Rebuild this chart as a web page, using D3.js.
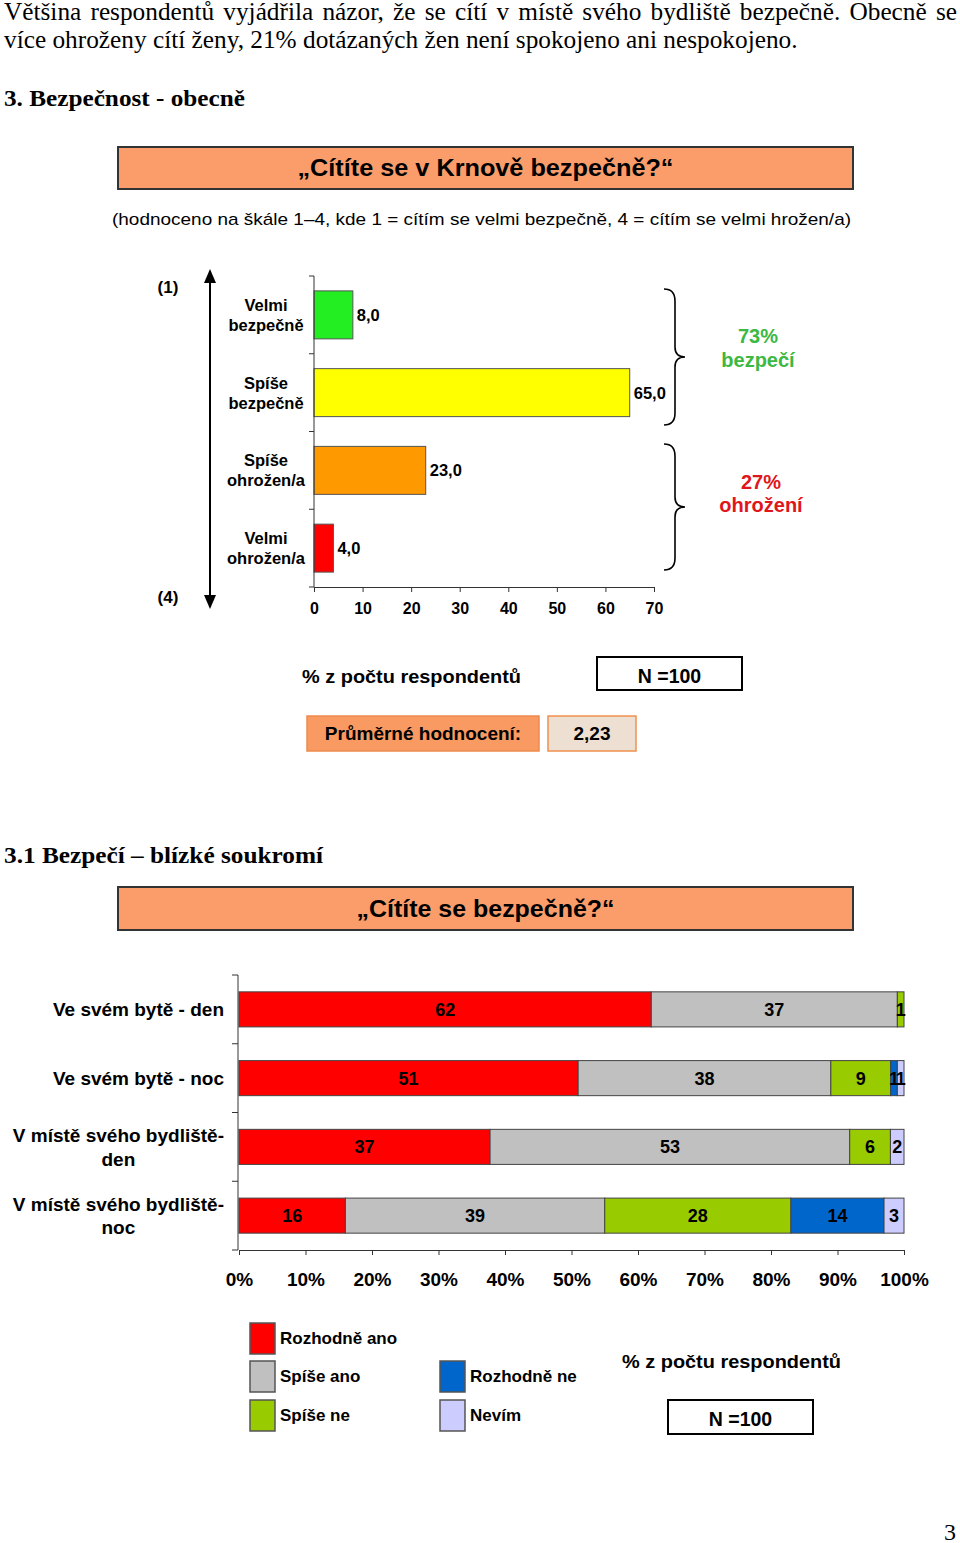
<!DOCTYPE html>
<html>
<head>
<meta charset="utf-8">
<script src="https://cdn.jsdelivr.net/npm/d3@7"></script>
<style>
  html, body { margin: 0; padding: 0; background: #fff; }
  svg { display: block; }
  text { font-family: "Liberation Sans", Arial, sans-serif; fill: #000; }
  .serif { font-family: "Liberation Serif", "Times New Roman", serif; }
  .b { font-weight: bold; }
</style>
</head>
<body>
<svg id="page" width="960" height="1543"></svg>
<script>
// ---------- DATA ----------
const paragraphLines = [
  "Většina respondentů vyjádřila názor, že se cítí v místě svého bydliště bezpečně. Obecně se",
  "více ohroženy cítí ženy, 21% dotázaných žen není spokojeno ani nespokojeno."
];
const heading1 = "3. Bezpečnost - obecně";
const title1 = "„Cítíte se v Krnově bezpečně?“";
const subtitle1 = "(hodnoceno na škále 1–4, kde 1 = cítím se velmi bezpečně, 4 = cítím se velmi hrožen/a)";

const cats1 = ["Velmi bezpečně", "Spíše bezpečně", "Spíše ohrožen/a", "Velmi ohrožen/a"];
const catLines1 = [["Velmi", "bezpečně"], ["Spíše", "bezpečně"], ["Spíše", "ohrožen/a"], ["Velmi", "ohrožen/a"]];
const values1 = [8.0, 65.0, 23.0, 4.0];
const colors1 = ["#22EE22", "#FFFF00", "#FF9900", "#FF0000"];
const ticks1 = [0, 10, 20, 30, 40, 50, 60, 70];
const groupLabels1 = [["73%", "bezpečí"], ["27%", "ohrožení"]];
const axisText1 = "% z počtu respondentů";
const nText = "N =100";
const avgLabel = "Průměrné hodnocení:";
const avgValue = "2,23";

const heading2 = "3.1 Bezpečí – blízké soukromí";
const title2 = "„Cítíte se bezpečně?“";
const rows2 = ["Ve svém bytě - den", "Ve svém bytě - noc", "V místě svého bydliště-den", "V místě svého bydliště-noc"];
const rowLines2 = [["Ve svém bytě - den"], ["Ve svém bytě - noc"], ["V místě svého bydliště-", "den"], ["V místě svého bydliště-", "noc"]];
const series2 = ["Rozhodně ano", "Spíše ano", "Spíše ne", "Rozhodně ne", "Nevím"];
const rozhodneAno = [62, 51, 37, 16];
const spiseAno    = [37, 38, 53, 39];
const spiseNe     = [1, 9, 6, 28];
const rozhodneNe  = [0, 1, 0, 14];
const nevim       = [0, 1, 2, 3];
const colors2 = ["#FF0000", "#C0C0C0", "#99CC00", "#0066CC", "#CCCCFF"];
const ticks2 = [0, 0.1, 0.2, 0.3, 0.4, 0.5, 0.6, 0.7, 0.8, 0.9, 1.0];
const pageNumber = "3";

// ---------- HELPERS ----------
const svg = d3.select("#page");
function fit(sel, w, adj) {
  sel.attr("textLength", w).attr("lengthAdjust", adj || "spacingAndGlyphs");
  return sel;
}

// ---------- TOP TEXT (justified) ----------
(function () {
  const l2 = svg.append("text").attr("class", "serif").attr("x", 4).attr("y", 48)
    .style("font-size", "22px").text(paragraphLines[1]);
  const fs = 22 * 794 / l2.node().getComputedTextLength();
  l2.style("font-size", fs + "px");
  const l1 = svg.append("text").attr("class", "serif").attr("x", 4).attr("y", 20)
    .style("font-size", fs + "px").text(paragraphLines[0]);
  const w = l1.node().getComputedTextLength();
  const spaces = paragraphLines[0].split(" ").length - 1;
  if (w < 953) l1.style("word-spacing", ((953 - w) / spaces) + "px");
  else l1.call(fit, 953);
})();
svg.append("text").attr("class", "serif b").attr("x", 4).attr("y", 106)
  .style("font-size", "24px").text(heading1).call(fit, 241);

// title box
function titleBox(y0, h, txt, w) {
  svg.append("rect").attr("x", 118).attr("y", y0).attr("width", 735).attr("height", h)
    .attr("fill", "#FA9D6A").attr("stroke", "#333").attr("stroke-width", 2);
  svg.append("text").attr("class", "b").attr("x", 485.5).attr("y", y0 + h / 2 + 8)
    .attr("text-anchor", "middle").style("font-size", "23px").text(txt).call(fit, w);
}
titleBox(147, 42, title1, 376);
svg.append("text").attr("x", 481.5).attr("y", 225).attr("text-anchor", "middle")
  .style("font-size", "17px").text(subtitle1).call(fit, 739);

// ---------- CHART 1 ----------
const x1 = d3.scaleLinear().domain([0, 70]).range([314, 654]);
const y1 = d3.scaleBand().domain(cats1).range([276, 587]).paddingInner(0.383).paddingOuter(0.1915);
const g1 = svg.append("g");

g1.selectAll("rect.bar").data(cats1).join("rect").attr("class", "bar")
  .attr("x", x1(0)).attr("y", d => y1(d))
  .attr("width", (d, i) => x1(values1[i]) - x1(0)).attr("height", y1.bandwidth())
  .attr("fill", (d, i) => colors1[i]).attr("stroke", "#555").attr("stroke-width", 1);

g1.selectAll("text.val").data(cats1).join("text").attr("class", "val b")
  .attr("x", (d, i) => x1(values1[i]) + 4).attr("y", d => y1(d) + y1.bandwidth() / 2 + 6)
  .style("font-size", "16.5px").text((d, i) => values1[i].toFixed(1).replace(".", ","));

// x axis
const xAxis1 = g1.append("g").attr("transform", "translate(0,587)")
  .call(d3.axisBottom(x1).tickValues(ticks1).tickSize(5).tickSizeOuter(0).tickPadding(11));
xAxis1.select(".domain").attr("stroke", "#333");
xAxis1.selectAll(".tick line").attr("stroke", "#333");
xAxis1.selectAll(".tick text").attr("class", "b").style("font-size", "16px")
  .style("font-family", "'Liberation Sans', Arial, sans-serif").attr("fill", "#000");

// y axis line with boundary ticks
g1.append("line").attr("x1", 314).attr("x2", 314).attr("y1", 276).attr("y2", 587).attr("stroke", "#333");
g1.selectAll("line.yt").data(d3.range(cats1.length + 1)).join("line").attr("class", "yt")
  .attr("x1", 309).attr("x2", 314)
  .attr("y1", i => y1.range()[0] + i * y1.step()).attr("y2", i => y1.range()[0] + i * y1.step())
  .attr("stroke", "#333");

// category labels
cats1.forEach((c, i) => {
  const cy = y1(c) + y1.bandwidth() / 2;
  catLines1[i].forEach((ln, j) => {
    g1.append("text").attr("class", "b").attr("x", 266).attr("y", cy - 4 + j * 20)
      .attr("text-anchor", "middle").style("font-size", "16.5px").text(ln);
  });
});

// double arrow
g1.append("line").attr("x1", 210).attr("x2", 210).attr("y1", 280).attr("y2", 598)
  .attr("stroke", "#000").attr("stroke-width", 2);
g1.append("path").attr("d", "M210,269 L204,283 L216,283 Z").attr("fill", "#000");
g1.append("path").attr("d", "M210,609 L204,595 L216,595 Z").attr("fill", "#000");
g1.append("text").attr("class", "b").attr("x", 168).attr("y", 293).attr("text-anchor", "middle")
  .style("font-size", "17px").text("(1)");
g1.append("text").attr("class", "b").attr("x", 168).attr("y", 603).attr("text-anchor", "middle")
  .style("font-size", "17px").text("(4)");

// braces
function brace(top, bot) {
  const mid = (top + bot) / 2;
  const p = `M664,${top} Q675,${top} 675,${top + 12} L675,${mid - 10} Q675,${mid} 685,${mid} ` +
            `Q675,${mid} 675,${mid + 10} L675,${bot - 12} Q675,${bot} 664,${bot}`;
  g1.append("path").attr("d", p).attr("fill", "none").attr("stroke", "#000").attr("stroke-width", 1.6);
}
brace(289, 425);
brace(444, 570);
const grpColors = ["#3CB843", "#E0161B"];
const grpPos = [[758, 343, 367], [761, 489, 512]];
groupLabels1.forEach((gl, i) => {
  gl.forEach((t, j) => {
    g1.append("text").attr("class", "b").attr("x", grpPos[i][0]).attr("y", grpPos[i][1 + j])
      .attr("text-anchor", "middle").style("font-size", "20px").style("fill", grpColors[i]).text(t);
  });
});

// footer of chart 1
svg.append("text").attr("class", "b").attr("x", 411.5).attr("y", 683).attr("text-anchor", "middle")
  .style("font-size", "19px").text(axisText1).call(fit, 219);
svg.append("rect").attr("x", 597).attr("y", 657).attr("width", 145).attr("height", 33)
  .attr("fill", "#fff").attr("stroke", "#000").attr("stroke-width", 2);
svg.append("text").attr("class", "b").attr("x", 669.5).attr("y", 683).attr("text-anchor", "middle")
  .style("font-size", "19.5px").text(nText);

svg.append("rect").attr("x", 307).attr("y", 716).attr("width", 232).attr("height", 35)
  .attr("fill", "#F89A62").attr("stroke", "#EE8A4E").attr("stroke-width", 1.5);
svg.append("text").attr("class", "b").attr("x", 423).attr("y", 740).attr("text-anchor", "middle")
  .style("font-size", "19px").text(avgLabel);
svg.append("rect").attr("x", 548).attr("y", 716).attr("width", 88).attr("height", 35)
  .attr("fill", "#EDDFD1").attr("stroke", "#F0904F").attr("stroke-width", 1.5);
svg.append("text").attr("class", "b").attr("x", 592).attr("y", 740).attr("text-anchor", "middle")
  .style("font-size", "19px").text(avgValue);

// ---------- SECTION 2 ----------
svg.append("text").attr("class", "serif b").attr("x", 4).attr("y", 863)
  .style("font-size", "24px").text(heading2).call(fit, 319);
titleBox(887, 43, title2, 258);

const table2 = rows2.map((r, i) => ({
  row: r,
  "Rozhodně ano": rozhodneAno[i], "Spíše ano": spiseAno[i], "Spíše ne": spiseNe[i],
  "Rozhodně ne": rozhodneNe[i], "Nevím": nevim[i]
}));
const stack2 = d3.stack().keys(series2).offset(d3.stackOffsetExpand)(table2);

const x2 = d3.scaleLinear().domain([0, 1]).range([239, 904]);
const y2 = d3.scaleBand().domain(rows2).range([975, 1250]).paddingInner(0.49).paddingOuter(0.245);
const g2 = svg.append("g");

const layers = g2.selectAll("g.layer").data(stack2).join("g").attr("class", "layer")
  .attr("fill", (d, i) => colors2[i]);
layers.selectAll("rect").data(d => d.filter(s => s[1] - s[0] > 0)).join("rect")
  .attr("x", s => x2(s[0])).attr("y", s => y2(s.data.row))
  .attr("width", s => x2(s[1]) - x2(s[0])).attr("height", y2.bandwidth())
  .attr("stroke", "#444").attr("stroke-width", 1);
layers.selectAll("text").data(d => d.filter(s => s[1] - s[0] > 0).map(s => ({ s, key: d.key }))).join("text")
  .attr("class", "b").attr("x", o => (x2(o.s[0]) + x2(o.s[1])) / 2)
  .attr("y", o => y2(o.s.data.row) + y2.bandwidth() / 2 + 6.5)
  .attr("text-anchor", "middle").style("font-size", "18px").style("fill", "#000")
  .text(o => o.s.data[o.key]);

// axes chart 2
const xAxis2 = g2.append("g").attr("transform", "translate(0,1250)")
  .call(d3.axisBottom(x2).tickValues(ticks2).tickFormat(d3.format(".0%")).tickSize(5).tickSizeOuter(0).tickPadding(18));
xAxis2.select(".domain").attr("stroke", "#333");
xAxis2.selectAll(".tick line").attr("stroke", "#333");
xAxis2.selectAll(".tick text").attr("class", "b").style("font-size", "19px")
  .style("font-family", "'Liberation Sans', Arial, sans-serif").attr("fill", "#000");
g2.append("line").attr("x1", 238).attr("x2", 238).attr("y1", 975).attr("y2", 1250).attr("stroke", "#333");
g2.selectAll("line.yt").data(d3.range(rows2.length + 1)).join("line").attr("class", "yt")
  .attr("x1", 232).attr("x2", 238)
  .attr("y1", i => y2.range()[0] + i * y2.step()).attr("y2", i => y2.range()[0] + i * y2.step())
  .attr("stroke", "#333");

// row labels (block right-aligned at 224, lines centered in block)
rows2.forEach((r, i) => {
  const lines = rowLines2[i];
  const cy = y2(r) + y2.bandwidth() / 2;
  const tmp = lines.map(ln => {
    const t = g2.append("text").attr("class", "b").style("font-size", "19px").text(ln);
    const w = t.node().getComputedTextLength();
    return { t, w };
  });
  const maxW = d3.max(tmp, d => d.w);
  const n = lines.length;
  tmp.forEach((d, j) => {
    d.t.attr("x", 224 - maxW / 2).attr("text-anchor", "middle")
      .attr("y", cy + 7 + (j - (n - 1) / 2) * 23.5);
  });
});

// legend
const legPos = [[250, 1323], [250, 1361], [250, 1400], [440, 1361], [440, 1400]];
series2.forEach((s, i) => {
  svg.append("rect").attr("x", legPos[i][0]).attr("y", legPos[i][1]).attr("width", 25).attr("height", 31)
    .attr("fill", colors2[i]).attr("stroke", "#555").attr("stroke-width", 1.5);
  svg.append("text").attr("class", "b").attr("x", legPos[i][0] + 30).attr("y", legPos[i][1] + 21)
    .style("font-size", "17px").text(s);
});
svg.append("text").attr("class", "b").attr("x", 731.5).attr("y", 1368).attr("text-anchor", "middle")
  .style("font-size", "19px").text(axisText1).call(fit, 219);
svg.append("rect").attr("x", 668).attr("y", 1400).attr("width", 145).attr("height", 34)
  .attr("fill", "#fff").attr("stroke", "#000").attr("stroke-width", 2);
svg.append("text").attr("class", "b").attr("x", 740.5).attr("y", 1426).attr("text-anchor", "middle")
  .style("font-size", "19.5px").text(nText);

svg.append("text").attr("class", "serif").attr("x", 956).attr("y", 1540).attr("text-anchor", "end")
  .style("font-size", "24px").text(pageNumber);
</script>
</body>
</html>
